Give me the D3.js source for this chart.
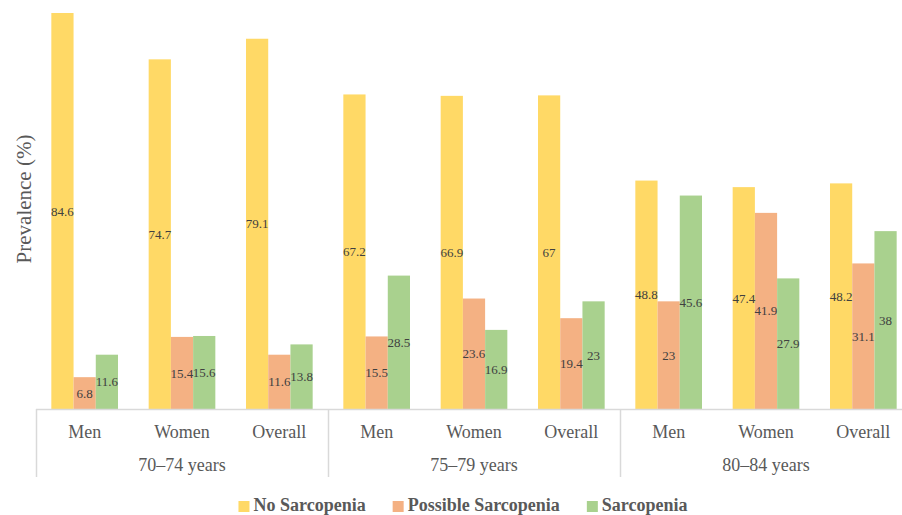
<!DOCTYPE html>
<html>
<head>
<meta charset="utf-8">
<script src="https://cdn.jsdelivr.net/npm/d3@7"></script>
<style>
  body { margin: 0; background: #fff; }
  svg { display: block; font-family: "Liberation Serif", "Times New Roman", "DejaVu Serif", serif; }
</style>
</head>
<body>
<svg id="chart" width="902" height="515"></svg>
<script>
// data
const ageGroups = ["70–74 years", "75–79 years", "80–84 years"];
const subGroups = ["Men", "Women", "Overall"];
const seriesNames = ["No Sarcopenia", "Possible Sarcopenia", "Sarcopenia"];
const seriesColors = ["#FFD966", "#F4B183", "#A9D18E"];

const noSarcopenia = [84.6, 74.7, 79.1, 67.2, 66.9, 67, 48.8, 47.4, 48.2];
const possibleSarcopenia = [6.8, 15.4, 11.6, 15.5, 23.6, 19.4, 23, 41.9, 31.1];
const sarcopenia = [11.6, 15.6, 13.8, 28.5, 16.9, 23, 45.6, 27.9, 38];

const seriesValues = [noSarcopenia, possibleSarcopenia, sarcopenia];

// categories are age group + sub group
const categories = [];
ageGroups.forEach(a => subGroups.forEach(s => categories.push({ age: a, sub: s, key: a + "|" + s })));

const svg = d3.select("#chart");
const plotLeft = 36, plotRight = 912, baseline = 409, plotTop = 13;

const x0 = d3.scaleBand()
    .domain(categories.map(d => d.key))
    .range([plotLeft, plotRight])
    .padding(0);

const x1 = d3.scaleBand()
    .domain(seriesNames)
    .range([0, x0.bandwidth()])
    .paddingInner(0)
    .paddingOuter(0.69);

const xAge = d3.scaleBand()
    .domain(ageGroups)
    .range([plotLeft, plotRight])
    .padding(0);

const y = d3.scaleLinear()
    .domain([0, 84.6])
    .range([baseline, plotTop]);

// bars
categories.forEach((c, i) => {
    const g = svg.append("g").attr("transform", `translate(${x0(c.key)},0)`);
    seriesNames.forEach((s, j) => {
        const v = seriesValues[j][i];
        g.append("rect")
            .attr("x", x1(s))
            .attr("y", y(v))
            .attr("width", x1.bandwidth())
            .attr("height", baseline - y(v))
            .attr("fill", seriesColors[j]);
    });
    seriesNames.forEach((s, j) => {
        const v = seriesValues[j][i];
        g.append("text")
            .attr("x", x1(s) + x1.bandwidth() / 2)
            .attr("y", (y(v) + baseline) / 2)
            .attr("dy", "0.35em")
            .attr("text-anchor", "middle")
            .attr("font-size", 13)
            .attr("fill", "#404040")
            .text(v);
    });
});

// x axis line and separators
const axisColor = "#d9d9d9";
svg.append("line")
    .attr("x1", plotLeft).attr("x2", plotRight)
    .attr("y1", baseline + 0.5).attr("y2", baseline + 0.5)
    .attr("stroke", axisColor).attr("stroke-width", 1.5);

ageGroups.forEach(a => {
    svg.append("line")
        .attr("x1", xAge(a) + 0.5).attr("x2", xAge(a) + 0.5)
        .attr("y1", baseline).attr("y2", 477)
        .attr("stroke", axisColor).attr("stroke-width", 1.5);
});

// category labels
svg.append("g").selectAll("text")
    .data(categories)
    .join("text")
    .attr("x", d => x0(d.key) + x0.bandwidth() / 2)
    .attr("y", 438)
    .attr("text-anchor", "middle")
    .attr("font-size", 18)
    .attr("fill", "#595959")
    .text(d => d.sub);

svg.append("g").selectAll("text")
    .data(ageGroups)
    .join("text")
    .attr("x", d => xAge(d) + xAge.bandwidth() / 2)
    .attr("y", 471)
    .attr("text-anchor", "middle")
    .attr("font-size", 18)
    .attr("fill", "#595959")
    .text(d => d);

// y axis title
svg.append("text")
    .attr("transform", "translate(31,199) rotate(-90)")
    .attr("text-anchor", "middle")
    .attr("font-size", 21)
    .attr("fill", "#595959")
    .text("Prevalence (%)");

// legend
const legend = svg.append("g");
const items = seriesNames.map((s, j) => {
    const g = legend.append("g");
    g.append("rect").attr("width", 11).attr("height", 11).attr("y", -10).attr("fill", seriesColors[j]);
    const t = g.append("text")
        .attr("x", 15)
        .attr("font-size", 18)
        .attr("font-weight", "bold")
        .attr("fill", "#595959")
        .text(s);
    return { g, w: 15 + t.node().getComputedTextLength() };
});
const gap = 27;
const total = d3.sum(items, d => d.w) + gap * (items.length - 1);
let lx = 463 - total / 2;
items.forEach(it => {
    it.g.attr("transform", `translate(${lx},511)`);
    lx += it.w + gap;
});
</script>
</body>
</html>
